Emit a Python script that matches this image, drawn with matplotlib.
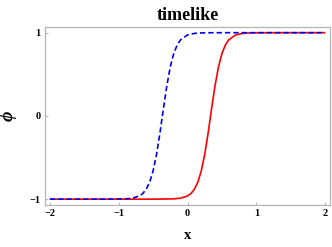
import matplotlib
matplotlib.use("Agg")
from matplotlib import pyplot as plt

# values
red_x = [-2.0, -1.0, -0.5, -0.2, -0.1, 0.0, 0.05, 0.1, 0.15, 0.2, 0.25, 0.3,
         0.35, 0.4, 0.45, 0.5, 0.55, 0.6, 0.7, 0.8, 0.9, 1.0, 1.2, 1.5, 2.0]
red_y = [-1.0, -1.0, -0.9999, -0.9963, -0.9881, -0.9617, -0.9324, -0.8813,
         -0.7961, -0.6608, -0.4621, -0.2031, 0.0878, 0.3646, 0.5890, 0.7494,
         0.8521, 0.9153, 0.9731, 0.9916, 0.9974, 0.9992, 0.9999, 1.0, 1.0]

blue_x = [-2.0, -1.5, -1.2, -0.9, -0.8, -0.7, -0.65, -0.6, -0.55, -0.5, -0.45,
          -0.4, -0.35, -0.3, -0.25, -0.2, -0.15, -0.1, 0.0, 0.1, 0.2, 0.3,
          0.5, 0.8, 2.0]
blue_y = [-1.0, -1.0, -0.9999, -0.9963, -0.9881, -0.9617, -0.9324, -0.8813,
          -0.7961, -0.6608, -0.4621, -0.2031, 0.0878, 0.3646, 0.5890, 0.7494,
          0.8521, 0.9153, 0.9731, 0.9916, 0.9974, 0.9992, 0.9999, 1.0, 1.0]

xticks = [-2, -1, 0, 1, 2]
yticks = [-1, 0, 1]

plt.rcParams["font.family"] = ["Liberation Serif", "DejaVu Serif"]
plt.rcParams["font.weight"] = "bold"

fig = plt.figure(figsize=(3.32, 2.47), dpi=100)
ax = fig.add_axes([45 / 332, 42 / 247, 285 / 332, 178.3 / 247])

ax.plot(red_x, red_y, color="#ff0000", lw=1.2, solid_capstyle="butt")
ax.plot(blue_x, blue_y, color="#0000ee", lw=1.2, dashes=(3.2, 1.8))

ax.set_xlim(-2.07, 2.07)
ax.set_ylim(-1.07, 1.072)
ax.set_xticks(xticks)
ax.set_yticks(yticks)
ax.set_xticklabels(["\u22122", "\u22121", "0", "1", "2"])
ax.set_yticklabels(["\u22121", "0", "1"])

for s in ax.spines.values():
    s.set_color("#b4b4b4")
    s.set_linewidth(0.9)
ax.tick_params(direction="in", length=2.5, width=0.7, color="#b4b4b4",
               labelsize=7.5, labelcolor="black", pad=3)
for lab in ax.get_xticklabels() + ax.get_yticklabels():
    lab.set_fontweight("bold")

ax.set_title("timelike", fontsize=13, fontweight="bold", pad=5)
ax.set_xlabel("x", fontsize=10.5, fontweight="bold", labelpad=8)
ax.set_ylabel("\u03d5", fontsize=13, fontweight="bold", style="italic",
              labelpad=9)

fig.savefig("out.png", dpi=100)
